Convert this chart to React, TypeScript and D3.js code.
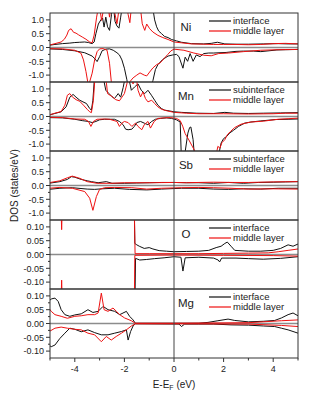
import React from 'react';
import * as d3 from 'd3';

// energy grid (eV) and tick labels
const xTicks = [-4, -2, 0, 2, 4];
const xMinor = [-5, -3, -1, 1, 3, 5];
const bigTicks = [-1, -0.5, 0, 0.5, 1];
const bigMinor = [-0.75, -0.25, 0.25, 0.75];
const smallTicks = [-0.1, -0.05, 0, 0.05, 0.1];
const smallMinor = [-0.075, -0.025, 0.025, 0.075];

// Ni
const niIfUp = [[-5.05,0.08],[-4.8,0.11],[-4.5,0.14],[-4.2,0.16],[-4.0,0.18],[-3.8,0.19],[-3.6,0.2],[-3.45,0.18],[-3.3,0.14],[-3.22,0.2],[-3.15,0.5],[-3.05,0.85],[-2.95,1.0],[-2.88,1.07],[-2.82,0.74],[-2.75,1.1],[-2.68,0.75],[-2.6,0.62],[-2.52,1.2],[-2.45,1.6],[-2.38,0.95],[-2.3,0.78],[-2.22,0.7],[-2.15,1.1],[-2.05,1.7],[-1.8,2.2],[-1.4,2.5],[-1.0,1.9],[-0.85,1.4],[-0.78,1.0],[-0.7,0.75],[-0.62,0.6],[-0.5,0.5],[-0.38,0.4],[-0.24,0.36],[-0.1,0.29],[0.1,0.24],[0.3,0.19],[0.7,0.14],[1.2,0.13],[1.5,0.15],[1.75,0.19],[1.9,0.16],[2.05,0.13],[2.5,0.12],[3.0,0.12],[3.6,0.13],[4.2,0.14],[4.6,0.13],[5.0,0.13]];
const niMidUp = [[-5.05,0.08],[-4.8,0.14],[-4.55,0.2],[-4.42,0.3],[-4.32,0.45],[-4.25,0.62],[-4.15,0.68],[-4.05,0.55],[-3.95,0.52],[-3.85,0.46],[-3.7,0.38],[-3.55,0.3],[-3.4,0.2],[-3.3,0.17],[-3.22,0.45],[-3.12,1.1],[-3.02,1.6],[-2.92,0.98],[-2.82,1.5],[-2.7,1.8],[-2.6,1.1],[-2.5,1.7],[-2.4,1.3],[-2.3,0.86],[-2.2,1.5],[-2.0,2.0],[-1.85,1.2],[-1.78,0.9],[-1.7,1.6],[-1.5,2.0],[-1.35,1.4],[-1.28,0.86],[-1.18,0.62],[-1.1,0.85],[-0.98,0.68],[-0.85,0.56],[-0.65,0.44],[-0.45,0.36],[-0.24,0.29],[0,0.2],[0.3,0.17],[0.7,0.13],[1.2,0.12],[1.6,0.11],[2.0,0.11],[2.5,0.11],[3.0,0.1],[3.5,0.11],[4.0,0.14],[4.5,0.15],[5.0,0.13]];
const niIfDn = [[-5.05,-0.05],[-4.5,-0.07],[-4.0,-0.12],[-3.6,-0.19],[-3.3,-0.31],[-3.18,-0.42],[-3.1,-0.51],[-3.0,-0.33],[-2.9,-0.12],[-2.75,-0.06],[-2.6,-0.05],[-2.45,-0.1],[-2.3,-0.19],[-2.2,-0.27],[-2.1,-0.45],[-2.0,-0.75],[-1.9,-1.17],[-1.8,-1.7],[-1.4,-2.0],[-1.0,-1.6],[-0.85,-1.2],[-0.75,-0.8],[-0.65,-0.62],[-0.45,-0.43],[-0.24,-0.31],[-0.05,-0.27],[0.1,-0.25],[0.2,-0.33],[0.36,-0.75],[0.45,-0.35],[0.55,-0.5],[0.65,-0.22],[0.77,-0.5],[0.9,-0.27],[1.05,-0.33],[1.2,-0.22],[1.4,-0.2],[1.6,-0.2],[2.1,-0.18],[2.5,-0.14],[2.8,-0.13],[3.2,-0.13],[3.5,-0.15],[4.15,-0.09],[4.5,-0.08],[5.0,-0.07]];
const niMidDn = [[-5.05,-0.04],[-4.5,-0.05],[-4.0,-0.1],[-3.75,-0.21],[-3.65,-0.45],[-3.55,-0.87],[-3.45,-1.4],[-3.3,-0.93],[-3.2,-0.45],[-3.1,-0.15],[-3.0,-0.05],[-2.85,-0.04],[-2.7,-0.1],[-2.6,-0.57],[-2.5,-1.5],[-2.2,-2.0],[-1.9,-1.6],[-1.77,-1.23],[-1.65,-1.1],[-1.5,-1.0],[-1.37,-0.92],[-1.2,-1.0],[-1.1,-1.03],[-0.95,-0.85],[-0.85,-0.74],[-0.7,-0.62],[-0.56,-0.56],[-0.4,-0.4],[-0.25,-0.25],[-0.12,-0.12],[0,-0.06],[0.4,-0.1],[0.8,-0.2],[1.2,-0.28],[1.5,-0.3],[1.8,-0.22],[2.2,-0.2],[2.8,-0.15],[3.5,-0.1],[4.2,-0.08],[5.0,-0.07]];

// Mn
const mnSubUp = [[-5.05,0.05],[-4.8,0.11],[-4.55,0.17],[-4.35,0.35],[-4.2,0.7],[-4.07,0.8],[-3.95,0.7],[-3.8,0.59],[-3.67,0.53],[-3.53,0.47],[-3.4,0.29],[-3.33,0.23],[-3.27,0.59],[-3.2,1.5],[-3.0,1.7],[-2.85,1.4],[-2.75,0.95],[-2.62,0.83],[-2.5,0.72],[-2.4,0.65],[-2.25,0.83],[-2.15,0.7],[-2.05,1.05],[-1.95,1.5],[-1.85,1.5],[-1.72,0.95],[-1.59,1.07],[-1.45,1.18],[-1.32,0.95],[-1.18,0.83],[-1.05,0.95],[-0.91,0.77],[-0.78,0.59],[-0.65,0.41],[-0.51,0.29],[-0.38,0.23],[-0.17,0.2],[0,0.17],[0.3,0.15],[0.9,0.12],[1.6,0.11],[2.05,0.15],[2.4,0.12],[3.0,0.11],[3.6,0.12],[4.3,0.13],[5.0,0.14]];
const mnMidUp = [[-5.05,0.05],[-4.8,0.12],[-4.55,0.18],[-4.4,0.41],[-4.3,0.77],[-4.2,0.83],[-4.1,0.71],[-3.95,0.61],[-3.8,0.55],[-3.65,0.41],[-3.5,0.26],[-3.4,0.17],[-3.33,0.14],[-3.25,0.59],[-3.18,1.5],[-2.95,1.8],[-2.78,1.5],[-2.72,1.18],[-2.68,0.83],[-2.58,0.77],[-2.48,0.71],[-2.35,0.61],[-2.2,0.57],[-2.1,0.7],[-2.0,0.83],[-1.9,1.18],[-1.8,1.6],[-1.65,1.18],[-1.55,1.6],[-1.45,0.95],[-1.35,0.71],[-1.25,0.89],[-1.15,0.65],[-1.05,0.53],[-0.9,0.59],[-0.78,0.47],[-0.65,0.35],[-0.5,0.26],[-0.3,0.21],[0,0.15],[0.5,0.12],[1.0,0.1],[2.0,0.1],[3.0,0.09],[4.0,0.1],[4.5,0.12],[5.0,0.12]];
const mnSubDn = [[-5.05,-0.04],[-4.5,-0.05],[-4.0,-0.1],[-3.7,-0.15],[-3.45,-0.18],[-3.3,-0.22],[-3.15,-0.18],[-3.0,-0.12],[-2.8,-0.1],[-2.4,-0.1],[-2.2,-0.18],[-2.05,-0.3],[-1.95,-0.46],[-1.85,-0.48],[-1.7,-0.46],[-1.6,-0.36],[-1.5,-0.22],[-1.35,-0.18],[-1.2,-0.24],[-1.05,-0.3],[-0.9,-0.18],[-0.75,-0.1],[-0.55,-0.07],[-0.3,-0.05],[-0.1,-0.07],[0.1,-0.12],[0.25,-0.2],[0.3,-1.6],[0.43,-1.4],[0.56,-0.6],[0.63,-0.4],[0.68,-0.38],[0.77,-0.84],[0.83,-1.5],[1.3,-2.0],[1.8,-1.4],[1.9,-0.96],[2.0,-0.8],[2.13,-0.72],[2.24,-0.6],[2.4,-0.5],[2.6,-0.36],[2.85,-0.24],[3.1,-0.2],[3.5,-0.16],[4.1,-0.11],[4.6,-0.1],[5.0,-0.09]];
const mnMidDn = [[-5.05,-0.03],[-4.5,-0.04],[-4.0,-0.09],[-3.6,-0.1],[-3.45,-0.18],[-3.35,-0.36],[-3.25,-0.18],[-3.1,-0.1],[-2.8,-0.09],[-2.6,-0.1],[-2.3,-0.18],[-2.2,-0.36],[-2.1,-0.24],[-2.0,-0.18],[-1.85,-0.22],[-1.7,-0.36],[-1.55,-0.24],[-1.45,-0.36],[-1.3,-0.48],[-1.2,-0.3],[-1.05,-0.18],[-0.95,-0.42],[-0.8,-0.18],[-0.65,-0.07],[-0.4,-0.05],[-0.15,-0.04],[0.1,-0.07],[0.25,-0.15],[0.35,-0.35],[0.45,-0.62],[0.6,-0.85],[0.75,-1.1],[0.9,-1.35],[1.2,-1.8],[1.6,-1.6],[1.73,-1.25],[1.77,-1.08],[1.85,-1.15],[1.93,-0.95],[2.05,-0.84],[2.15,-0.66],[2.28,-0.54],[2.45,-0.4],[2.7,-0.28],[3.1,-0.2],[3.6,-0.17],[4.2,-0.1],[4.6,-0.08],[5.0,-0.06]];

// Sb
const sbSubUp = [[-5.05,0.08],[-4.6,0.14],[-4.3,0.22],[-4.14,0.32],[-4.0,0.3],[-3.74,0.22],[-3.5,0.17],[-3.33,0.14],[-3.06,0.1],[-2.9,0.12],[-2.73,0.14],[-2.5,0.08],[-2.0,0.08],[-1.5,0.09],[-1.0,0.1],[-0.5,0.11],[0,0.11],[0.5,0.1],[1.0,0.1],[1.6,0.08],[2.2,0.11],[2.8,0.08],[3.4,0.11],[4.0,0.12],[4.5,0.13],[5.0,0.14]];
const sbMidUp = [[-5.05,0.1],[-4.6,0.17],[-4.3,0.28],[-4.1,0.34],[-3.8,0.26],[-3.5,0.14],[-3.1,0.08],[-2.5,0.08],[-2.0,0.1],[-1.0,0.1],[0,0.11],[0.5,0.1],[1.0,0.11],[1.6,0.12],[2.4,0.11],[3.0,0.11],[4.0,0.13],[5.0,0.14]];
const sbSubDn = [[-5.05,-0.14],[-4.6,-0.1],[-4.1,-0.08],[-3.5,-0.13],[-3.2,-0.14],[-2.9,-0.12],[-2.4,-0.1],[-1.8,-0.14],[-1.1,-0.16],[-0.5,-0.13],[0.3,-0.1],[1.0,-0.1],[1.6,-0.13],[2.2,-0.14],[2.8,-0.12],[3.5,-0.13],[4.2,-0.1],[5.0,-0.1]];
const sbMidDn = [[-5.05,-0.1],[-4.6,-0.07],[-4.1,-0.1],[-3.6,-0.22],[-3.4,-0.46],[-3.27,-0.9],[-3.13,-0.4],[-3.0,-0.14],[-2.8,-0.08],[-2.4,-0.07],[-1.7,-0.08],[-1.1,-0.13],[-0.5,-0.1],[0.3,-0.08],[1.0,-0.07],[1.6,-0.08],[2.3,-0.1],[3.0,-0.13],[4.0,-0.12],[5.0,-0.13]];

// O
const oIfUp = [[-5.05,0.4],[-3,0.5],[-1.65,0.45],[-1.58,0.04],[-1.5,0.035],[-1.4,0.03],[-1.2,0.022],[-1.0,0.025],[-0.85,0.02],[-0.6,0.014],[-0.3,0.012],[0,0.01],[0.5,0.011],[1.0,0.012],[1.4,0.015],[1.7,0.025],[1.9,0.03],[2.05,0.04],[2.15,0.045],[2.3,0.03],[2.45,0.015],[3.0,0.012],[3.5,0.012],[4.0,0.015],[4.3,0.022],[4.6,0.035],[4.8,0.03],[5.0,0.038]];
const oMidUp = [[-5.05,0.4],[-4.6,0.3],[-4.53,0.09],[-4.47,0.3],[-3,0.5],[-1.65,0.45],[-1.57,0.003],[-1,0.003],[0,0.003],[1,0.003],[2,0.004],[3,0.005],[3.8,0.006],[4.2,0.01],[4.6,0.015],[5.0,0.02]];
const oIfDn = [[-5.05,-0.4],[-3,-0.5],[-1.62,-0.45],[-1.55,-0.014],[-1.38,-0.02],[-1.1,-0.018],[-0.78,-0.015],[-0.4,-0.012],[0,-0.008],[0.28,-0.01],[0.36,-0.06],[0.45,-0.012],[1.0,-0.01],[1.6,-0.013],[1.78,-0.02],[1.84,-0.027],[1.92,-0.013],[2.5,-0.013],[3.0,-0.015],[3.6,-0.017],[4.3,-0.014],[5.0,-0.008]];
const oMidDn = [[-5.05,-0.4],[-4.6,-0.3],[-4.53,-0.093],[-4.47,-0.3],[-3,-0.5],[-1.63,-0.45],[-1.58,-0.003],[0,-0.002],[2,-0.003],[4,-0.004],[5,-0.006]];

// Mg
const mgIfUp = [[-5.05,0.08],[-4.95,0.089],[-4.8,0.092],[-4.67,0.08],[-4.55,0.05],[-4.4,0.032],[-4.2,0.026],[-4.0,0.031],[-3.74,0.035],[-3.47,0.05],[-3.27,0.04],[-3.06,0.044],[-2.86,0.062],[-2.66,0.05],[-2.39,0.044],[-2.19,0.032],[-1.92,0.044],[-1.79,0.026],[-1.65,0.013],[-1.56,0.001],[0,0.001],[1.0,0.001],[1.37,0.004],[1.77,0.01],[2.18,0.016],[2.45,0.011],[3.0,0.006],[3.6,0.008],[4.06,0.011],[4.33,0.02],[4.6,0.032],[4.8,0.038],[5.0,0.028]];
const mgMidUp = [[-5.05,0.056],[-4.95,0.044],[-4.8,0.032],[-4.55,0.026],[-4.3,0.019],[-4.0,0.026],[-3.74,0.028],[-3.47,0.032],[-3.2,0.032],[-3.06,0.038],[-2.93,0.11],[-2.82,0.05],[-2.66,0.044],[-2.46,0.056],[-2.32,0.044],[-2.19,0.032],[-1.99,0.02],[-1.72,0.01],[-1.56,0.001],[0,0.001],[3,0.003],[4.33,0.01],[5.0,0.013]];
const mgIfDn = [[-5.05,-0.078],[-4.95,-0.084],[-4.8,-0.078],[-4.6,-0.054],[-4.4,-0.035],[-4.2,-0.017],[-4.0,-0.021],[-3.74,-0.03],[-3.47,-0.023],[-3.2,-0.033],[-2.93,-0.041],[-2.66,-0.041],[-2.39,-0.035],[-2.12,-0.029],[-1.92,-0.023],[-1.85,-0.06],[-1.75,-0.029],[-1.65,-0.009],[-1.56,-0.001],[0.2,-0.002],[0.3,-0.011],[0.43,-0.002],[1.0,-0.002],[1.6,-0.002],[2.3,-0.005],[3.0,-0.006],[3.6,-0.009],[4.06,-0.011],[4.33,-0.017],[4.6,-0.023],[5.0,-0.035]];
const mgMidDn = [[-5.05,-0.03],[-4.8,-0.017],[-4.55,-0.013],[-4.3,-0.017],[-4.0,-0.021],[-3.74,-0.023],[-3.47,-0.035],[-3.2,-0.041],[-2.93,-0.066],[-2.73,-0.047],[-2.53,-0.06],[-2.33,-0.047],[-2.12,-0.035],[-1.92,-0.023],[-1.72,-0.009],[-1.56,-0.001],[0,-0.001],[3,-0.002],[4.33,-0.007],[5.0,-0.011]];

const panels = [
  { atom: 'Ni', names: ['interface', 'middle layer'], black: [niIfUp, niIfDn], red: [niMidUp, niMidDn], lim: 1.25, ticks: bigTicks, minor: bigMinor, dec: 1 },
  { atom: 'Mn', names: ['subinterface', 'middle layer'], black: [mnSubUp, mnSubDn], red: [mnMidUp, mnMidDn], lim: 1.25, ticks: bigTicks, minor: bigMinor, dec: 1 },
  { atom: 'Sb', names: ['subinterface', 'middle layer'], black: [sbSubUp, sbSubDn], red: [sbMidUp, sbMidDn], lim: 1.25, ticks: bigTicks, minor: bigMinor, dec: 1 },
  { atom: 'O', names: ['interface', 'middle layer'], black: [oIfUp, oIfDn], red: [oMidUp, oMidDn], lim: 0.125, ticks: smallTicks, minor: smallMinor, dec: 2 },
  { atom: 'Mg', names: ['interface', 'middle layer'], black: [mgIfUp, mgIfDn], red: [mgMidUp, mgMidDn], lim: 0.125, ticks: smallTicks, minor: smallMinor, dec: 2 },
];

const W = 332;
const H = 398;
const left = 50;
const right = 298;
const top = 13;
const ph = 69;
const font = '"Liberation Sans", Arial, sans-serif';
const RED = '#ee1111';

export default function App() {
  const x = d3.scaleLinear().domain([-5, 5]).range([left, right]);
  const bottom = top + ph * panels.length;

  return (
    <div style={{ position: 'absolute', left: 0, top: 0 }}>
      <svg width={W} height={H} style={{ display: 'block', background: '#fff' }} fontFamily={font}>
        <defs>
          {panels.map((p, i) => (
            <clipPath id={`clip${i}`} key={i}>
              <rect x={left} y={top + i * ph} width={right - left} height={ph} />
            </clipPath>
          ))}
        </defs>

        {panels.map((p, i) => {
          const y0 = top + i * ph;
          const y = d3.scaleLinear().domain([-p.lim, p.lim]).range([y0 + ph, y0]);
          const line = d3.line<number[]>().x(d => x(d[0])).y(d => y(d[1]));
          return (
            <g key={p.atom}>
              <line x1={left} x2={right} y1={y(0)} y2={y(0)} stroke="#8c8c8c" strokeWidth={1.4} />
              <g clipPath={`url(#clip${i})`} fill="none" strokeWidth={1}>
                {p.black.map((c, j) => <path key={'b' + j} d={line(c) || ''} stroke="#111" />)}
                {p.red.map((c, j) => <path key={'r' + j} d={line(c) || ''} stroke={RED} />)}
              </g>
              <rect x={left} y={y0} width={right - left} height={ph} fill="none" stroke="#333" strokeWidth={1} />
              {p.ticks.map(t => (
                <g key={t}>
                  <line x1={left - 4} x2={left} y1={y(t)} y2={y(t)} stroke="#333" />
                  <text x={left - 6} y={y(t) + 3.2} fontSize={9} textAnchor="end" fill="#222">{t.toFixed(p.dec)}</text>
                </g>
              ))}
              {p.minor.map(t => (
                <line key={t} x1={left - 2} x2={left} y1={y(t)} y2={y(t)} stroke="#333" />
              ))}
              <text x={186} y={y0 + 17.5} fontSize={11.5} textAnchor="middle" fill="#222">{p.atom}</text>
              {p.names.map((n, j) => (
                <g key={n}>
                  <line x1={209} x2={231} y1={y0 + 8 + j * 10} y2={y0 + 8 + j * 10} stroke={j === 0 ? '#111' : RED} strokeWidth={1.2} />
                  <text x={233} y={y0 + 11.3 + j * 10} fontSize={9.5} fill="#222">{n}</text>
                </g>
              ))}
            </g>
          );
        })}

        <line x1={x(0)} x2={x(0)} y1={top} y2={bottom} stroke="#444" strokeWidth={1} />

        {xTicks.map(t => (
          <g key={t}>
            <line x1={x(t)} x2={x(t)} y1={bottom} y2={bottom + 4} stroke="#333" />
            <text x={x(t)} y={bottom + 14} fontSize={9} textAnchor="middle" fill="#222">{String(t)}</text>
          </g>
        ))}
        {xMinor.map(t => (
          <line key={t} x1={x(t)} x2={x(t)} y1={bottom} y2={bottom + 2.5} stroke="#333" />
        ))}

        <text x={x(0)} y={bottom + 30} fontSize={10} textAnchor="middle" fill="#222">
          E-E<tspan fontSize={7} dy={2}>F</tspan><tspan dy={-2}> (eV)</tspan>
        </text>
        <text transform={`translate(18,${(top + bottom) / 2}) rotate(-90)`} fontSize={10} textAnchor="middle" fill="#222">
          DOS (states/eV)
        </text>
      </svg>
    </div>
  );
}
